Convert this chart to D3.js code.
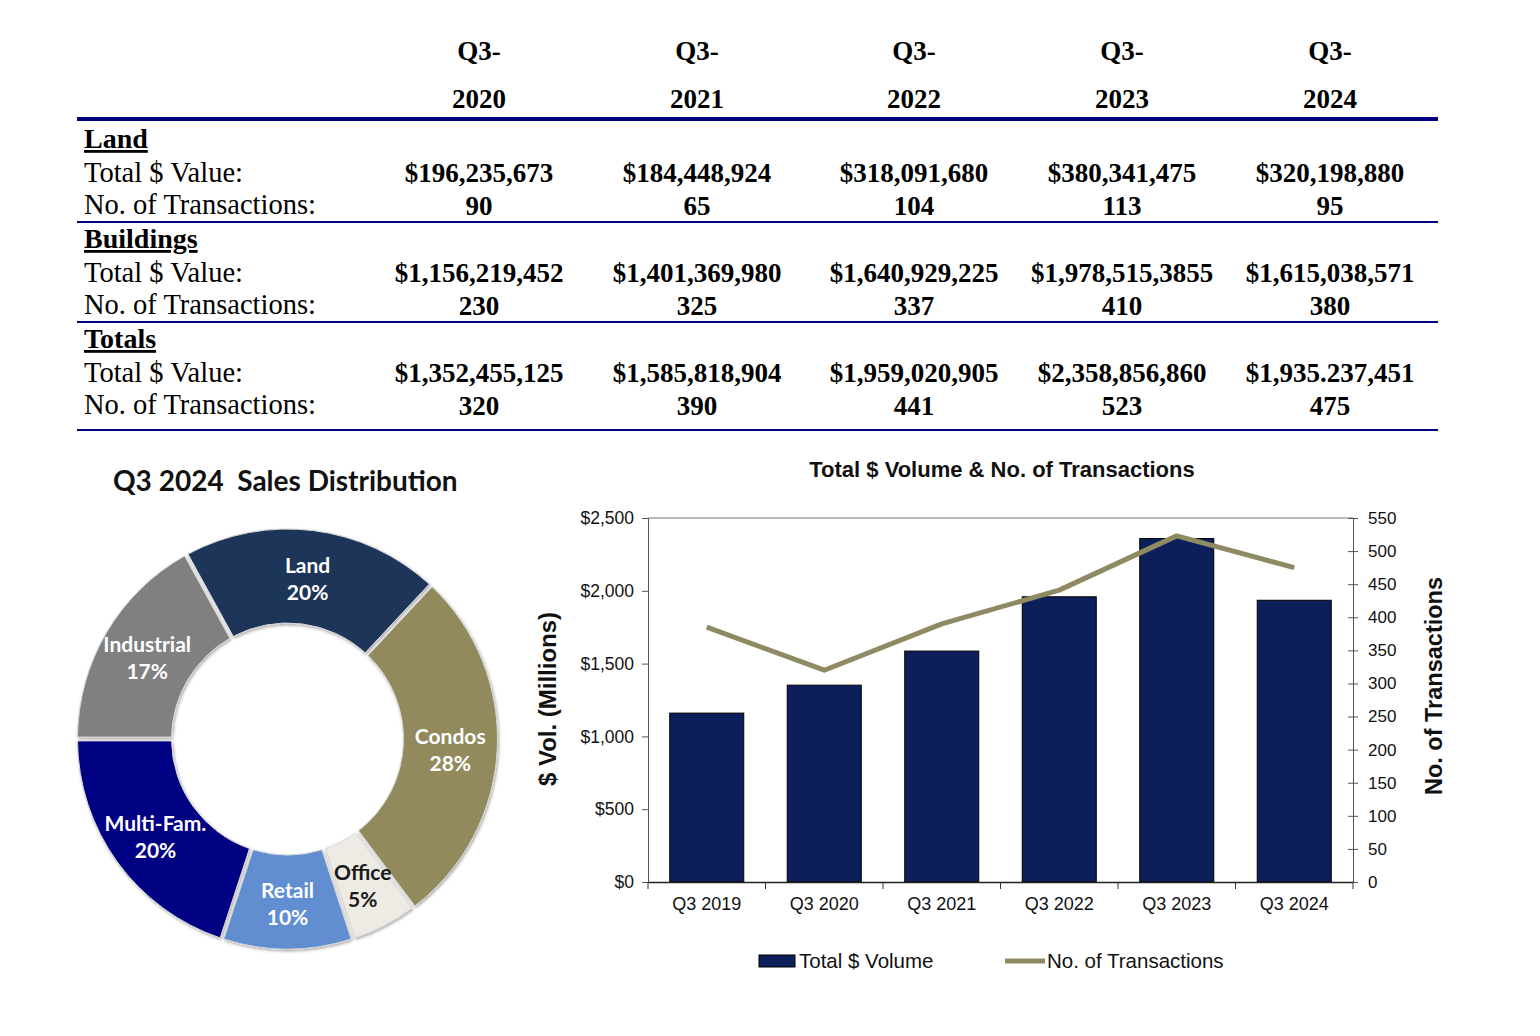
<!DOCTYPE html>
<html>
<head>
<meta charset="utf-8">
<script src="https://cdn.jsdelivr.net/npm/d3@7"></script>
<style>
  body { margin: 0; background: #fff; }
  svg { display: block; }
</style>
</head>
<body>
<div id="chart"></div>
<script>
// ---- table data ----
const tableYears = ["2020", "2021", "2022", "2023", "2024"];
const landValue = ["$196,235,673", "$184,448,924", "$318,091,680", "$380,341,475", "$320,198,880"];
const landCount = ["90", "65", "104", "113", "95"];
const bldgValue = ["$1,156,219,452", "$1,401,369,980", "$1,640,929,225", "$1,978,515,3855", "$1,615,038,571"];
const bldgCount = ["230", "325", "337", "410", "380"];
const totalValue = ["$1,352,455,125", "$1,585,818,904", "$1,959,020,905", "$2,358,856,860", "$1,935.237,451"];
const totalCount = ["320", "390", "441", "523", "475"];

// ---- donut data ----
const segments = ["Industrial", "Land", "Condos", "Office", "Retail", "Multi-Fam."];
const shares = [17, 20, 28, 5, 10, 20];
const segColors = ["#808080", "#1f3559", "#928a5c", "#edebe4", "#618ed0", "#000082"];

// ---- combo chart data ----
const quarters = ["Q3 2019", "Q3 2020", "Q3 2021", "Q3 2022", "Q3 2023", "Q3 2024"];
const volume = [1160, 1352, 1586, 1959, 2359, 1935];      // $ millions
const transactions = [385, 320, 390, 441, 523, 475];
const volTicks = [0, 500, 1000, 1500, 2000, 2500];
const countTicks = d3.range(0, 551, 50);

const W = 1540, H = 1036;
const svg = d3.select("#chart").append("svg")
    .attr("width", W)
    .attr("height", H);

// ================= table =================
const serif = "'Liberation Serif', 'Times New Roman', serif";
const navy = "#000080";
const colX = [479, 697, 914, 1122, 1330];
const tableLeft = 77, tableRight = 1438;

const head = svg.append("g").attr("font-family", serif).attr("font-weight", "bold")
    .attr("font-size", 27).attr("text-anchor", "middle");
tableYears.forEach((yr, i) => {
    head.append("text").attr("x", colX[i]).attr("y", 60).text("Q3-");
    head.append("text").attr("x", colX[i]).attr("y", 108).text(yr);
});
svg.append("rect").attr("x", tableLeft).attr("y", 117)
    .attr("width", tableRight - tableLeft).attr("height", 4).attr("fill", navy);

const sections = [
    { name: "Land", values: landValue, counts: landCount, top: 148 },
    { name: "Buildings", values: bldgValue, counts: bldgCount, top: 248 },
    { name: "Totals", values: totalValue, counts: totalCount, top: 348 }
];

sections.forEach(sec => {
    const g = svg.append("g").attr("font-family", serif).attr("fill", "#000");
    g.append("text")
        .attr("x", 84).attr("y", sec.top)
        .attr("font-size", 28).attr("font-weight", "bold")
        .attr("text-decoration", "underline")
        .text(sec.name);
    g.append("text").attr("x", 84).attr("y", sec.top + 34)
        .attr("font-size", 28.5).text("Total $ Value:");
    g.append("text").attr("x", 84).attr("y", sec.top + 66)
        .attr("font-size", 28.5).text("No. of Transactions:");

    sec.values.forEach((v, i) => {
        g.append("text").attr("x", colX[i]).attr("y", sec.top + 34)
            .attr("text-anchor", "middle").attr("font-size", 27)
            .attr("font-weight", "bold").text(v);
        g.append("text").attr("x", colX[i]).attr("y", sec.top + 67)
            .attr("text-anchor", "middle").attr("font-size", 27)
            .attr("font-weight", "bold").text(sec.counts[i]);
    });
});
[222, 322, 430].forEach(y => {
    svg.append("rect").attr("x", tableLeft).attr("y", y - 1)
        .attr("width", tableRight - tableLeft).attr("height", 2).attr("fill", navy);
});

// ================= donut =================
const defs = svg.append("defs");
const shadow = defs.append("filter").attr("id", "shadow")
    .attr("x", "-10%").attr("y", "-10%").attr("width", "120%").attr("height", "120%");
shadow.append("feDropShadow").attr("dx", 1).attr("dy", 1.5)
    .attr("stdDeviation", 1.5).attr("flood-color", "#000").attr("flood-opacity", 0.35);

svg.append("text")
    .attr("x", 113).attr("y", 491)
    .attr("font-family", "Lato, 'Open Sans', sans-serif")
    .attr("font-weight", "bold").attr("font-size", 28)
    .attr("fill", "#111")
    .style("white-space", "pre")
    .text("Q3 2024  Sales Distribution");

const cx = 287.5, cy = 739, rOut = 210, rIn = 116;
const pie = d3.pie().sort(null).value(d => d)
    .startAngle(-Math.PI / 2).endAngle(Math.PI * 1.5)
    .padAngle(0.016);
const arc = d3.arc().innerRadius(rIn).outerRadius(rOut);
const labelArc = d3.arc().innerRadius((rIn + rOut) / 2).outerRadius((rIn + rOut) / 2);

const donut = svg.append("g").attr("transform", `translate(${cx},${cy})`);
const arcs = pie(shares);

donut.selectAll("path")
    .data(arcs)
    .join("path")
    .attr("d", arc)
    .attr("fill", (d, i) => segColors[i])
    .attr("stroke", "#d8d8d8")
    .attr("stroke-width", 1)
    .attr("filter", "url(#shadow)");

const labels = donut.selectAll("g.lbl")
    .data(arcs)
    .join("g")
    .attr("class", "lbl")
    .attr("transform", d => `translate(${labelArc.centroid(d)})`)
    .attr("font-family", "Lato, 'Open Sans', sans-serif")
    .attr("font-weight", "bold")
    .attr("font-size", 21)
    .attr("text-anchor", "middle")
    .attr("fill", (d, i) => segments[i] === "Office" ? "#1a1a1a" : "#fff");
labels.append("text").attr("y", -4).text((d, i) => segments[i]);
labels.append("text").attr("y", 23).text((d, i) => shares[i] + "%");

// ================= combo chart =================
const sans = "'Liberation Sans', Arial, sans-serif";
const plot = { left: 648, right: 1353, top: 518, bottom: 882 };

const x = d3.scaleBand().domain(quarters).range([plot.left, plot.right])
    .paddingInner(0.37).paddingOuter(0.185);
const y = d3.scaleLinear().domain([0, 2500]).range([plot.bottom, plot.top]);
const y2 = d3.scaleLinear().domain([0, 550]).range([plot.bottom, plot.top]);

svg.append("text")
    .attr("x", 1002).attr("y", 477)
    .attr("text-anchor", "middle")
    .attr("font-family", sans).attr("font-weight", "bold").attr("font-size", 22)
    .attr("fill", "#111")
    .text("Total $ Volume & No. of Transactions");

// top frame line
svg.append("line")
    .attr("x1", plot.left).attr("x2", plot.right)
    .attr("y1", plot.top).attr("y2", plot.top)
    .attr("stroke", "#777").attr("stroke-width", 1.2);

// bars
svg.append("g").selectAll("rect")
    .data(quarters)
    .join("rect")
    .attr("x", d => x(d))
    .attr("y", (d, i) => y(volume[i]))
    .attr("width", x.bandwidth())
    .attr("height", (d, i) => y(0) - y(volume[i]))
    .attr("fill", "#0c1f5b")
    .attr("stroke", "#000")
    .attr("stroke-width", 1);

// transactions line
const line = d3.line()
    .x((d, i) => x(quarters[i]) + x.bandwidth() / 2)
    .y(d => y2(d));
svg.append("path")
    .datum(transactions)
    .attr("d", line)
    .attr("fill", "none")
    .attr("stroke", "#8f8a62")
    .attr("stroke-width", 5)
    .attr("stroke-linejoin", "round");

// left axis
const yAxis = svg.append("g")
    .attr("transform", `translate(${plot.left},0)`)
    .call(d3.axisLeft(y).tickValues(volTicks).tickSize(6).tickPadding(8)
        .tickFormat(d => "$" + d3.format(",")(d)));
yAxis.select(".domain").attr("stroke", "#555");
yAxis.selectAll(".tick line").attr("stroke", "#555");
yAxis.selectAll("text").attr("font-family", sans).attr("font-size", 17.5).attr("fill", "#111");

// right axis
const y2Axis = svg.append("g")
    .attr("transform", `translate(${plot.right},0)`)
    .call(d3.axisRight(y2).tickValues(countTicks).tickSize(5).tickPadding(10));
y2Axis.select(".domain").attr("stroke", "#555");
y2Axis.selectAll(".tick line").attr("x1", -5).attr("stroke", "#555");
y2Axis.selectAll("text").attr("font-family", sans).attr("font-size", 17).attr("fill", "#111");

// bottom axis: labels at band centres, ticks at band edges
const xAxis = svg.append("g")
    .attr("transform", `translate(0,${plot.bottom})`)
    .call(d3.axisBottom(x).tickSize(0).tickPadding(15));
xAxis.select(".domain").attr("stroke", "#222").attr("stroke-width", 1.5);
xAxis.selectAll("text").attr("font-family", sans).attr("font-size", 18).attr("fill", "#111");
const edges = quarters.map((q, i) => plot.left + i * x.step()).concat([plot.right]);
xAxis.selectAll("line.edge")
    .data(edges)
    .join("line")
    .attr("class", "edge")
    .attr("x1", d => d).attr("x2", d => d)
    .attr("y1", 0).attr("y2", 7)
    .attr("stroke", "#333");

// axis titles
svg.append("text")
    .attr("transform", "translate(556,699) rotate(-90)")
    .attr("text-anchor", "middle")
    .attr("font-family", sans).attr("font-weight", "bold").attr("font-size", 24)
    .attr("fill", "#111")
    .text("$ Vol. (Millions)");
svg.append("text")
    .attr("transform", "translate(1442,686) rotate(-90)")
    .attr("text-anchor", "middle")
    .attr("font-family", sans).attr("font-weight", "bold").attr("font-size", 23.5)
    .attr("fill", "#111")
    .text("No. of Transactions");

// legend
const legend = svg.append("g").attr("font-family", sans).attr("font-size", 20.5).attr("fill", "#111");
legend.append("rect").attr("x", 759).attr("y", 955).attr("width", 36).attr("height", 12)
    .attr("fill", "#0c1f5b").attr("stroke", "#000");
legend.append("text").attr("x", 799).attr("y", 968).text("Total $ Volume");
legend.append("line").attr("x1", 1005).attr("x2", 1045).attr("y1", 961).attr("y2", 961)
    .attr("stroke", "#8f8a62").attr("stroke-width", 5);
legend.append("text").attr("x", 1047).attr("y", 968).text("No. of Transactions");
</script>
</body>
</html>
